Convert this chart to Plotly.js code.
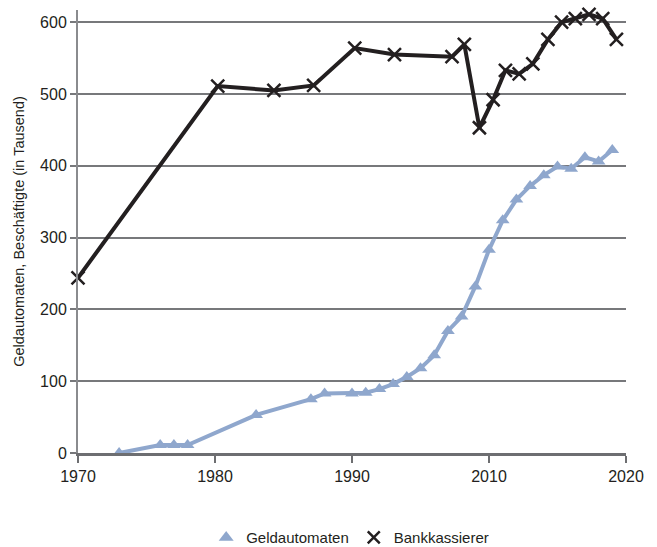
<!DOCTYPE html>
<html>
<head>
<meta charset="utf-8">
<script src="https://cdn.plot.ly/plotly-3.0.1.min.js"></script>
<style>html,body{margin:0;padding:0;background:#fff;}#chart{width:657px;height:547px;}</style>
</head>
<body>
<div id="chart"></div>
<script>
// Geldautomaten (ATMs), in thousands
const atmYears = [1973, 1976, 1977, 1978, 1983, 1987, 1988, 1990, 1991, 1992, 1993, 1994, 1995, 1996, 1997, 1998, 1999, 2000, 2001, 2002, 2003, 2004, 2005, 2006, 2007, 2008, 2009];
const atmValues = [0, 11, 11, 11, 53, 75, 83, 83, 84, 89, 96, 106, 118, 136, 170, 190, 232, 283, 324, 353, 372, 387, 399, 396, 412, 406, 422];

// Bankkassierer (bank tellers), in thousands
const tellerYears = [1970, 1980.2, 1984.3, 1987.2, 1990.2, 1993.1, 1997.3, 1998.2, 1999.3, 2000.3, 2001.2, 2002.2, 2003.2, 2004.3, 2005.3, 2006.3, 2007.3, 2008.3, 2009.3];
const tellerValues = [244, 511, 505, 512, 564, 555, 552, 569, 453, 492, 533, 528, 542, 576, 600, 605, 611, 605, 576];

// Axis ticks as printed on the reference
const xTickVals = [1970, 1980, 1990, 2000, 2010];
const xTickText = ['1970', '1980', '1990', '2010', '2020'];
const yTickVals = [0, 100, 200, 300, 400, 500, 600];

const FONT = '"Liberation Sans Narrow", "Arial Narrow", "Liberation Sans", Arial, sans-serif';
const ATM_COLOR = '#8fa7cd';
const TELLER_COLOR = '#231f20';

const traces = [
  {
    x: atmYears, y: atmValues, type: 'scatter', mode: 'lines+markers',
    name: 'Geldautomaten', showlegend: false, cliponaxis: false,
    line: {color: ATM_COLOR, width: 4},
    marker: {symbol: 'triangle-up', size: 12, color: ATM_COLOR}
  },
  {
    x: tellerYears, y: tellerValues, type: 'scatter', mode: 'lines+markers',
    name: 'Bankkassierer', showlegend: false, cliponaxis: false,
    line: {color: TELLER_COLOR, width: 4},
    marker: {symbol: 'x-thin', size: 13, color: TELLER_COLOR, line: {color: TELLER_COLOR, width: 2.5}}
  },
  {
    x: [null], y: [null], type: 'scatter', mode: 'markers', name: 'Geldautomaten',
    marker: {symbol: 'triangle-up', size: 13, color: ATM_COLOR}
  },
  {
    x: [null], y: [null], type: 'scatter', mode: 'markers', name: 'Bankkassierer',
    marker: {symbol: 'x-thin', size: 12, color: TELLER_COLOR, line: {color: TELLER_COLOR, width: 2.5}}
  }
];

const layout = {
  width: 657, height: 547,
  margin: {l: 78, r: 31, t: 10, b: 94},
  paper_bgcolor: '#ffffff', plot_bgcolor: '#ffffff',
  font: {family: FONT, size: 16, color: '#231f20'},
  showlegend: true,
  legend: {
    orientation: 'h', xref: 'container', x: 0.533, xanchor: 'center',
    yref: 'container', y: 0.017, yanchor: 'middle',
    font: {family: FONT, size: 15, color: '#231f20'},
    itemwidth: 30, tracegroupgap: 0
  },
  xaxis: {
    range: [1970, 2010], tickmode: 'array', tickvals: xTickVals, ticktext: xTickText,
    showgrid: false, zeroline: false,
    showline: true, linecolor: '#6d6e71', linewidth: 3,
    ticks: 'outside', ticklen: 7, tickwidth: 2, tickcolor: '#6d6e71',
    tickfont: {family: FONT, size: 16, color: '#231f20'}
  },
  yaxis: {
    range: [0, 617], tickmode: 'array', tickvals: yTickVals,
    showgrid: true, gridcolor: '#77787b', gridwidth: 2,
    zeroline: false,
    showline: true, linecolor: '#8a8b8e', linewidth: 2,
    ticks: 'outside', ticklen: 6, tickwidth: 2, tickcolor: '#77787b',
    tickfont: {family: FONT, size: 16, color: '#231f20'},
    title: {text: 'Geldautomaten, Beschäftigte (in Tausend)', font: {family: FONT, size: 14.5, color: '#231f20'}, standoff: 12}
  }
};

Plotly.newPlot('chart', traces, layout, {displayModeBar: false, staticPlot: true});
</script>
</body>
</html>
